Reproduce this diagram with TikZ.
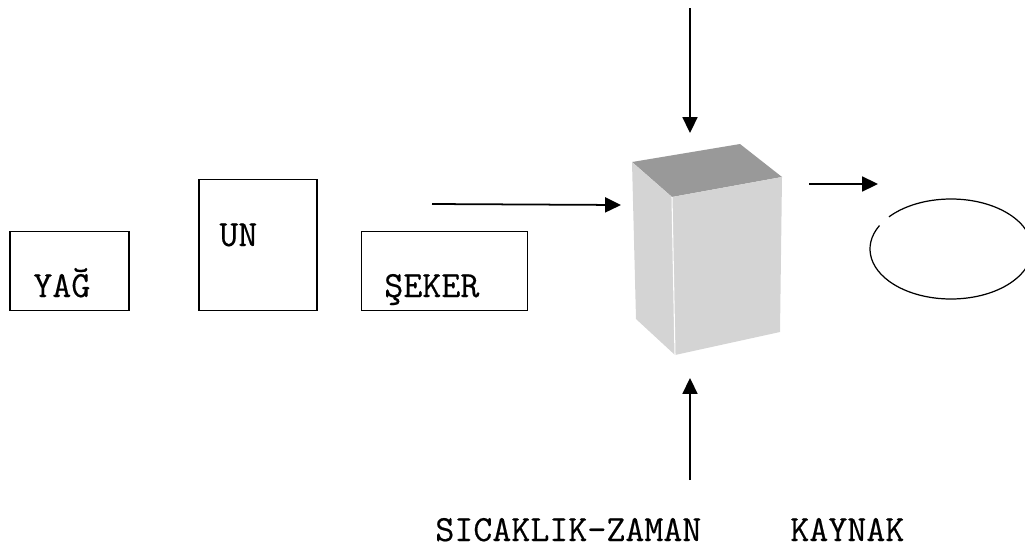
\documentclass[tikz,border=0pt]{standalone}
\usepackage{fontspec}
\newfontfamily\boxfont[FakeBold=0.4]{Latin Modern Mono}
\usetikzlibrary{arrows.meta}
\definecolor{cubetopcolor}{rgb}{0.6,0.6,0.6}
\definecolor{cubesidecolor}{rgb}{0.83,0.83,0.83}

\begin{document}
\begin{tikzpicture}[x=0.02cm,y=-0.02cm,
  box/.style={draw,line width=1pt,inner sep=0pt},
  lbl/.style={font=\boxfont\fontsize{21}{23}\selectfont,inner sep=0pt,anchor=base west},
  arr/.style={line width=1pt,-{Triangle[length=9pt,width=8.5pt]}}]
  \useasboundingbox (0,0) rectangle (1025,548);
  % ingredients
  \node[box,minimum width=2.38cm,minimum height=1.58cm] (yag) at (69.5,271) {};
  \node[box,minimum width=2.36cm,minimum height=2.62cm] (un) at (258,245) {};
  \node[box,minimum width=3.32cm,minimum height=1.58cm] (seker) at (444.5,271) {};
  \node[lbl] (yagtext) at (33,297) {YAĞ};
  \node[lbl] (untext) at (219,246) {UN};
  \node[lbl] (sekertext) at (384,297) {ŞEKER};
  % the cube
  \fill[cubetopcolor] (632,162) -- (740,144) -- (782,177) -- (672,197) -- cycle;
  \fill[cubesidecolor] (632,162) -- (672,197) -- (675,355) -- (636,319) -- cycle;
  \fill[cubesidecolor] (672,197) -- (782,177) -- (780,332) -- (675,355) -- cycle;
  \draw[white,line width=0.6pt] (672,197) -- (675,355);
  \coordinate (cubein) at (621,205);
  \coordinate (cubetop) at (690,133);
  \coordinate (cubebottom) at (690,378);
  \coordinate (cubeout) at (809,184);
  % arrows
  \coordinate (feed) at (432,204);
  \coordinate (above) at (690,8);
  \coordinate (heat) at (690,480);
  \coordinate (product) at (878,184);
  \draw[arr] (feed) -- (cubein);
  \draw[arr] (above) -- (cubetop);
  \draw[arr] (heat) -- (cubebottom);
  \draw[arr] (cubeout) -- (product);
  % result
  \draw[line width=0.7pt] (951,249) ++(220:81 and 50) arc[start angle=220,end angle=568,x radius=81,y radius=50];
  \node[lbl] (heattext) at (435,541) {SICAKLIK-ZAMAN};
  \node[lbl] (sourcetext) at (790,541) {KAYNAK};
\end{tikzpicture}
\end{document}
